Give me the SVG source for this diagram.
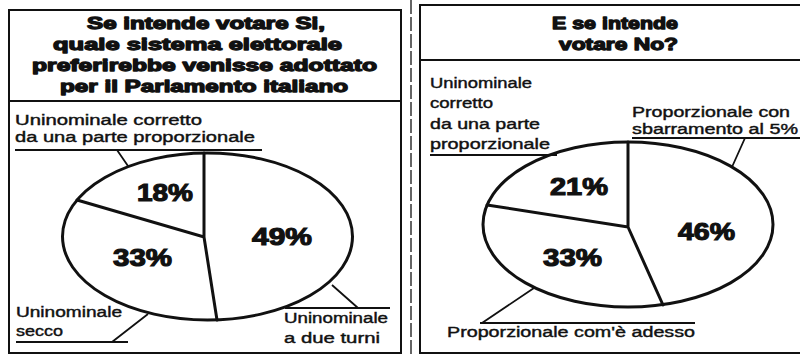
<svg xmlns="http://www.w3.org/2000/svg" width="800" height="356" viewBox="0 0 800 356">
<style>
.frame{fill:none;stroke:#111;stroke-width:2}
.pie{fill:#fff;stroke:#111;stroke-width:3}
.rad{fill:none;stroke:#111;stroke-width:3;stroke-linecap:round}
.lead{fill:none;stroke:#111;stroke-width:1.8}
.title{font-family:"Liberation Sans",Arial,sans-serif;font-weight:bold;font-size:17px;fill:#111;stroke:#111;stroke-width:1.3;stroke-linejoin:round}
.pct{font-family:"Liberation Sans",Arial,sans-serif;font-weight:bold;font-size:23px;fill:#111;stroke:#111;stroke-width:1.1;text-anchor:middle}
.lbl{font-family:"Liberation Sans",Arial,sans-serif;font-size:14px;fill:#111;stroke:#111;stroke-width:0.4}
</style>
<rect width="800" height="356" fill="#fff"/>
<line x1="411" y1="0" x2="411" y2="356" stroke="#333" stroke-width="1.5" stroke-dasharray="14 3"/>

<g id="panel-si">
  <rect class="frame" x="9" y="10" width="392" height="343"/>
  <line class="frame" x1="9" y1="101" x2="401" y2="101"/>
  <text class="title" x="87" y="29" textLength="238" lengthAdjust="spacingAndGlyphs">Se intende votare Si,</text>
  <text class="title" x="53" y="50" textLength="289" lengthAdjust="spacingAndGlyphs">quale sistema elettorale</text>
  <text class="title" x="32" y="71" textLength="345" lengthAdjust="spacingAndGlyphs">preferirebbe venisse adottato</text>
  <text class="title" x="60" y="92" textLength="288" lengthAdjust="spacingAndGlyphs">per il Parlamento italiano</text>
  <g id="pie-si">
    <ellipse class="pie" cx="207.5" cy="236.5" rx="145" ry="83.5"/>
    <path class="rad" d="M204,153 L204,237 L77,200 M204,237 L217,320"/>
    <text class="pct" x="165" y="201" textLength="56" lengthAdjust="spacingAndGlyphs">18%</text>
    <text class="pct" x="282" y="245" textLength="60" lengthAdjust="spacingAndGlyphs">49%</text>
    <text class="pct" x="142.5" y="266" textLength="59" lengthAdjust="spacingAndGlyphs">33%</text>
  </g>
  <g id="label-si-corretto">
    <text class="lbl" x="15" y="125" textLength="187" lengthAdjust="spacingAndGlyphs">Uninominale  corretto</text>
    <text class="lbl" x="15" y="142" textLength="240" lengthAdjust="spacingAndGlyphs">da una parte proporzionale</text>
  </g>
  <g id="label-si-secco">
    <text class="lbl" x="16" y="317" textLength="106" lengthAdjust="spacingAndGlyphs">Uninominale</text>
    <text class="lbl" x="16" y="336" textLength="47" lengthAdjust="spacingAndGlyphs">secco</text>
  </g>
  <g id="label-si-turni">
    <text class="lbl" x="284" y="323" textLength="104" lengthAdjust="spacingAndGlyphs">Uninominale</text>
    <text class="lbl" x="284" y="343" textLength="96" lengthAdjust="spacingAndGlyphs">a due turni</text>
  </g>
</g>

<g id="panel-no">
  <rect class="frame" x="420" y="5" width="390" height="348"/>
  <line class="frame" x1="420" y1="60" x2="800" y2="60"/>
  <text class="title" x="552" y="29" textLength="126" lengthAdjust="spacingAndGlyphs">E se intende</text>
  <text class="title" x="559" y="50" textLength="119" lengthAdjust="spacingAndGlyphs">votare No?</text>
  <g id="pie-no">
    <ellipse class="pie" cx="628" cy="224.5" rx="145" ry="82.5"/>
    <path class="rad" d="M628,142 L628,227 L487,205 M628,227 L663,305"/>
    <text class="pct" x="579" y="195" textLength="58" lengthAdjust="spacingAndGlyphs">21%</text>
    <text class="pct" x="706.5" y="240" textLength="57" lengthAdjust="spacingAndGlyphs">46%</text>
    <text class="pct" x="572.5" y="266" textLength="59" lengthAdjust="spacingAndGlyphs">33%</text>
  </g>
  <g id="label-no-corretto">
    <text class="lbl" x="430" y="88" textLength="102" lengthAdjust="spacingAndGlyphs">Uninominale</text>
    <text class="lbl" x="430" y="108" textLength="63" lengthAdjust="spacingAndGlyphs">corretto</text>
    <text class="lbl" x="430" y="129" textLength="110" lengthAdjust="spacingAndGlyphs">da una parte</text>
    <text class="lbl" x="430" y="149" textLength="120" lengthAdjust="spacingAndGlyphs">proporzionale</text>
  </g>
  <g id="label-no-sbarramento">
    <text class="lbl" x="632" y="117" textLength="158" lengthAdjust="spacingAndGlyphs">Proporzionale con</text>
    <text class="lbl" x="632" y="134" textLength="166" lengthAdjust="spacingAndGlyphs">sbarramento al 5%</text>
  </g>
  <g id="label-no-adesso">
    <text class="lbl" x="447" y="337" textLength="248" lengthAdjust="spacingAndGlyphs">Proporzionale com'è adesso</text>
  </g>
</g>

<g id="connectors">
  <path class="lead" d="M15,150 H262 M117,150 L128,166"/>
  <path class="lead" d="M16,342 H128 M112,342 L148,314"/>
  <path class="lead" d="M332,285 L358,308 M285,308 H390"/>
  <path class="lead" d="M430,155 H557"/>
  <path class="lead" d="M632,138 H800 M745,138 L732,167"/>
  <path class="lead" d="M480,323 H695 M482,323 L534,288"/>
</g>
</svg>
